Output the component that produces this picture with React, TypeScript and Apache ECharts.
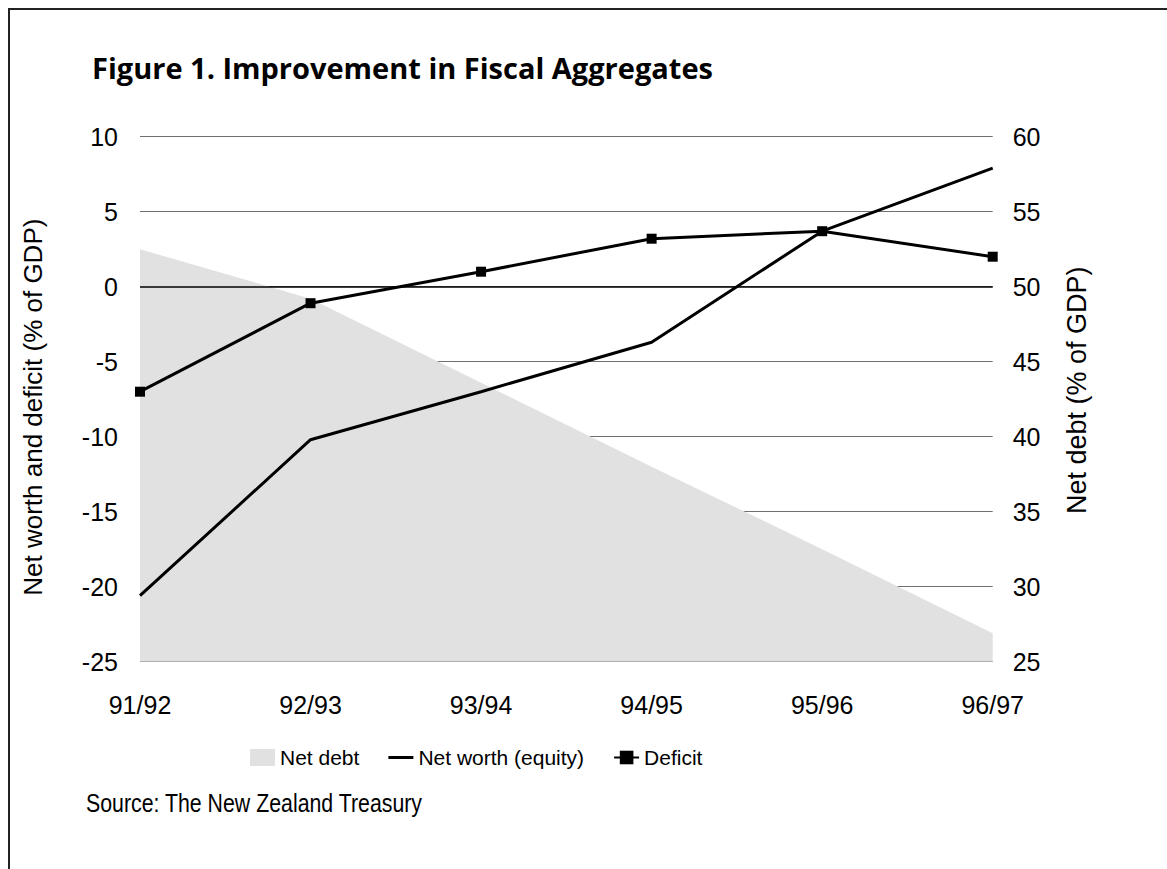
import React, { useEffect, useRef } from "react";
import * as echarts from "echarts";

const categories = ["91/92", "92/93", "93/94", "94/95", "95/96", "96/97"];
const netDebt = [52.5, 49.2, 43.6, 38.0, 32.5, 26.9];
const netWorth = [-20.6, -10.2, -7.0, -3.7, 3.7, 7.9];
const deficit = [-7.0, -1.1, 1.0, 3.2, 3.7, 2.0];

const TICK_FONT = "'Liberation Sans', Arial, sans-serif";

export default function App() {
  const ref = useRef<HTMLDivElement>(null);
  useEffect(() => {
    if (!ref.current) return;
    const chart = echarts.init(ref.current, undefined, { renderer: "svg" });
    chart.setOption({
      animation: false,
      backgroundColor: "#ffffff",
      grid: { left: 140, right: 174.3, top: 136.7, bottom: 207.3, containLabel: false },
      graphic: [
        { type: "line", shape: { x1: 8, y1: 9, x2: 1167, y2: 9 }, style: { stroke: "#222", lineWidth: 2 } },
        { type: "line", shape: { x1: 9, y1: 8, x2: 9, y2: 869 }, style: { stroke: "#222", lineWidth: 2 } },
        {
          type: "text",
          x: 92,
          y: 67,
          style: {
            text: "Figure 1. Improvement in Fiscal Aggregates",
            font: "bold 29px 'Open Sans', Lato, sans-serif",
            fill: "#000",
            verticalAlign: "middle",
          },
        },
        {
          type: "text",
          x: 86,
          y: 803,
          scaleX: 0.82,
          style: {
            text: "Source: The New Zealand Treasury",
            font: "26px " + TICK_FONT,
            fill: "#000",
            verticalAlign: "middle",
          },
        },
      ],
      legend: {
        left: 250,
        top: 747,
        padding: 0,
        itemWidth: 25,
        itemHeight: 17,
        itemGap: 29,
        textStyle: { fontFamily: TICK_FONT, fontSize: 21, color: "#000" },
        data: [
          { name: "Net debt", icon: "rect" },
          { name: "Net worth (equity)", icon: "path://M0,0H25V3H0Z" },
          { name: "Deficit" },
        ],
      },
      xAxis: {
        type: "category",
        data: categories,
        boundaryGap: false,
        axisLine: { show: false },
        axisTick: { show: false },
        axisLabel: { fontFamily: TICK_FONT, fontSize: 25, color: "#000", margin: 31 },
        splitLine: { show: false },
      },
      yAxis: [
        {
          type: "value",
          min: -25,
          max: 10,
          interval: 5,
          position: "left",
          name: "Net worth and deficit (% of GDP)",
          nameLocation: "middle",
          nameGap: 94,
          nameTextStyle: { fontFamily: TICK_FONT, fontSize: 26, color: "#000", padding: [0, 16, 0, 0] },
          axisLine: { show: false },
          axisTick: { show: false },
          axisLabel: { fontFamily: TICK_FONT, fontSize: 25, color: "#000", margin: 22 },
          splitLine: { show: true, lineStyle: { color: "#707070", width: 1 } },
        },
        {
          type: "value",
          min: 25,
          max: 60,
          interval: 5,
          position: "right",
          name: "Net debt (% of GDP)",
          nameLocation: "middle",
          nameGap: 71,
          nameTextStyle: { fontFamily: TICK_FONT, fontSize: 27, color: "#000", padding: [0, 0, 0, 18] },
          axisLine: { show: false },
          axisTick: { show: false },
          axisLabel: { fontFamily: TICK_FONT, fontSize: 25, color: "#000", margin: 20 },
          splitLine: { show: false },
        },
      ],
      series: [
        {
          name: "Net debt",
          type: "line",
          yAxisIndex: 1,
          data: netDebt,
          symbol: "none",
          lineStyle: { width: 0, color: "#e1e1e1" },
          itemStyle: { color: "#e1e1e1" },
          areaStyle: { color: "#e1e1e1", opacity: 1, origin: "start" },
          z: 1,
        },
        {
          name: "Net worth (equity)",
          type: "line",
          yAxisIndex: 0,
          data: netWorth,
          symbol: "none",
          lineStyle: { width: 3, color: "#000" },
          itemStyle: { color: "#000" },
          z: 3,
        },
        {
          name: "Deficit",
          type: "line",
          yAxisIndex: 0,
          data: deficit,
          symbol: "rect",
          symbolSize: 10,
          lineStyle: { width: 3, color: "#000" },
          itemStyle: { color: "#000" },
          z: 4,
          markLine: {
            silent: true,
            symbol: "none",
            label: { show: false },
            lineStyle: { color: "#000", width: 1.5, type: "solid" },
            data: [{ yAxis: 0 }],
          },
        },
      ],
    });
    return () => chart.dispose();
  }, []);
  return (
    <div style={{ position: "fixed", left: 0, top: 0, width: 1167, height: 869, background: "#fff" }}>
      <div ref={ref} style={{ width: 1167, height: 869 }} />
    </div>
  );
}
